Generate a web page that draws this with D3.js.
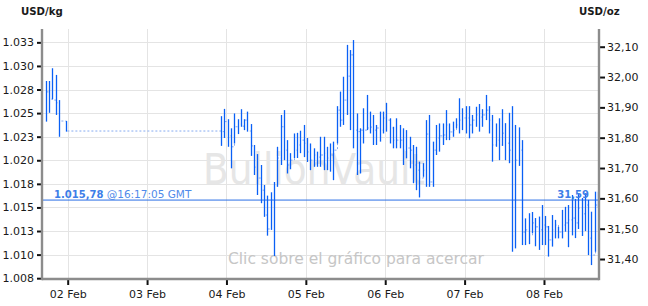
<!DOCTYPE html>
<html><head><meta charset="utf-8">
<script src="https://cdn.jsdelivr.net/npm/d3@7"></script>
<style>html,body{margin:0;padding:0;background:#fff;} svg{display:block;font-family:"DejaVu Sans",Verdana,sans-serif;}</style>
</head><body><svg id="c" width="648" height="306"></svg>
<script>
// ---- data (hourly HLC bars, USD/oz); hour offsets from 02 Feb 2013 00:00 GMT
const baseTime = "2013-02-02T00:00:00Z";
const hours = [-7,-6,-5,-4,-3,-1,
  46,47,48,49,50,51,52,53,54,55,56,57,58,59,60,61,62,63,64,65,66,67,68,69,70,71,72,73,74,75,
  76,77,78,79,80,81,82,83,84,85,86,87,88,89,90,91,92,93,94,95,96,97,98,99,100,101,102,103,104,105,
  106,107,108,109,110,111,112,113,114,115,116,117,118,119,120,121,122,123,124,125,126,127,128,129,130,131,132,133,134,135,
  136,137,138,139,140,141,142,143,144,145,146,147,148,149,150,151,152,153,154,155,156,157,158,159,160];
const highs = [31.987,31.987,32.029,32.007,31.924,31.855,
  31.871,31.895,31.861,31.831,31.880,31.861,31.894,31.861,31.886,31.845,
  31.776,31.746,31.710,31.644,31.609,31.620,31.654,31.770,31.875,31.891,
  31.792,31.749,31.814,31.816,31.823,31.842,31.799,31.781,31.765,31.754,
  31.803,31.803,31.770,31.781,31.787,31.904,31.952,32.001,32.106,32.089,
  32.122,31.880,31.831,31.897,31.941,31.886,31.875,31.842,31.886,31.886,
  31.915,31.864,31.836,31.864,31.842,31.831,31.825,31.803,31.776,31.770,
  31.721,31.716,31.858,31.875,31.787,31.842,31.847,31.847,31.891,31.847,
  31.853,31.864,31.930,31.897,31.904,31.904,31.875,31.902,31.911,31.894,
  31.941,31.904,31.875,31.847,31.864,31.894,31.848,31.882,31.904,31.842,
  31.834,31.792,31.534,31.551,31.555,31.535,31.540,31.578,31.542,31.509,
  31.545,31.529,31.506,31.562,31.572,31.578,31.611,31.598,31.614,31.601,
  31.617,31.595,31.556,31.622,31.622];
const lows = [31.853,31.882,31.927,31.875,31.803,31.820,
  31.773,31.799,31.770,31.699,31.781,31.812,31.836,31.825,31.820,31.740,
  31.677,31.611,31.584,31.539,31.477,31.496,31.410,31.638,31.710,31.726,
  31.682,31.696,31.733,31.733,31.749,31.736,31.720,31.693,31.704,31.704,
  31.704,31.693,31.693,31.688,31.660,31.781,31.836,31.842,31.875,31.825,
  31.765,31.677,31.682,31.781,31.825,31.814,31.776,31.776,31.787,31.814,
  31.820,31.781,31.765,31.765,31.765,31.710,31.732,31.699,31.650,31.627,
  31.603,31.671,31.638,31.638,31.638,31.743,31.754,31.776,31.792,31.792,
  31.803,31.831,31.814,31.825,31.814,31.798,31.814,31.836,31.820,31.836,
  31.858,31.814,31.721,31.770,31.726,31.773,31.726,31.716,31.424,31.435,
  31.707,31.446,31.446,31.449,31.485,31.442,31.430,31.446,31.446,31.408,
  31.441,31.468,31.468,31.468,31.490,31.439,31.478,31.469,31.499,31.476,
  31.492,31.413,31.380,31.424,31.570];
const closes = [31.951,31.927,31.924,31.915,31.855,31.822,
  31.820,31.853,31.806,31.770,31.836,31.845,31.838,31.858,31.822,31.773,
  31.703,31.667,31.627,31.545,31.499,31.595,31.641,31.733,31.836,31.759,
  31.710,31.726,31.759,31.776,31.792,31.782,31.753,31.726,31.743,31.736,
  31.743,31.749,31.733,31.743,31.759,31.891,31.858,31.924,32.003,32.073,
  31.825,31.820,31.825,31.825,31.832,31.835,31.825,31.832,31.825,31.865,
  31.858,31.832,31.792,31.792,31.792,31.759,31.766,31.759,31.710,31.693,
  31.667,31.693,31.812,31.654,31.759,31.799,31.806,31.809,31.842,31.819,
  31.825,31.842,31.858,31.865,31.865,31.842,31.858,31.875,31.868,31.875,
  31.891,31.858,31.776,31.792,31.776,31.815,31.782,31.759,31.476,31.726,
  31.759,31.489,31.496,31.479,31.519,31.506,31.496,31.512,31.506,31.463,
  31.496,31.512,31.489,31.512,31.519,31.529,31.535,31.519,31.568,31.549,
  31.578,31.469,31.413,31.578,31.594];

const kgTicks = [1007.5,1010,1012.5,1015,1017.5,1020,1022.5,1025,1027.5,1030,1032.5];
const ozTicks = [31.40,31.50,31.60,31.70,31.80,31.90,32.00,32.10];
const dayTicks = ["2013-02-02","2013-02-03","2013-02-04","2013-02-05","2013-02-06","2013-02-07","2013-02-08"];
const lastPriceKg = 1015.78;
const lastTimeLabel = "@16:17:05 GMT";
const leftTitle = "USD/kg", rightTitle = "USD/oz";
const watermark = "BullionVault";
const hint = "Clic sobre el gráfico para acercar";
const OZ_PER_KG = 32.1507;
const ozDomain = [31.3341, 32.1584];
const timeDomain = ["2013-02-01T16:14:00Z", "2013-02-08T16:38:00Z"];

// ---- layout
const L = 42, R = 599, T = 29, B = 279;
const svg = d3.select("#c");
const es = d3.formatLocale({decimal:",", thousands:".", grouping:[3], currency:["","$"]});
const fKg = es.format(",.0f"), fOz = es.format(".2f"), fPrice = es.format(",.2f");

const x = d3.scaleUtc().domain(timeDomain.map(d => new Date(d))).range([L, R]);
const yOz = d3.scaleLinear().domain(ozDomain).range([B, T]);
const yKg = d3.scaleLinear().domain(ozDomain.map(v => v * OZ_PER_KG)).range([B, T]);
const base = new Date(baseTime).getTime();
const tAt = h => new Date(base + (h + 0.35) * 3600e3);
const bx = t => Math.round(x(t)) + 0.5;

// grid
const grid = svg.append("g").attr("stroke", "#e4e4e4").attr("stroke-width", 1).attr("shape-rendering","crispEdges");
grid.selectAll("line.h").data(kgTicks).join("line").attr("class","h")
  .attr("x1", L).attr("x2", R).attr("y1", d => Math.round(yKg(d))+0.5).attr("y2", d => Math.round(yKg(d))+0.5);
grid.selectAll("line.v").data(dayTicks).join("line").attr("class","v")
  .attr("y1", T).attr("y2", B).attr("x1", d => Math.round(x(new Date(d+"T00:00:00Z")))+0.5).attr("x2", d => Math.round(x(new Date(d+"T00:00:00Z")))+0.5);

// watermark & hint
svg.append("text").attr("x", 203).attr("y", 183.5).attr("font-size", 43)
  .attr("textLength", 222).attr("lengthAdjust", "spacingAndGlyphs")
  .attr("fill", "#e6e6e6").text(watermark);
svg.append("text").attr("x", 228).attr("y", 263.5).attr("font-size", 15.5)
  .attr("textLength", 256).attr("lengthAdjust", "spacingAndGlyphs")
  .attr("fill", "#c6c6c6").text(hint);

// last price line
const lastOz = lastPriceKg / OZ_PER_KG;
svg.append("line").attr("x1", L).attr("x2", R).attr("y1", yOz(lastOz)).attr("y2", yOz(lastOz))
  .attr("stroke", "#2a6fe6").attr("stroke-width", 1);

// bars
const bars = hours.map((h, i) => ({t: tAt(h), hi: highs[i], lo: lows[i], c: closes[i]}));

// close step line (dashed, light blue) from each bar to the next
const closeLine = d3.line().curve(d3.curveStepAfter).x(d => bx(d.t)).y(d => yOz(d.c));
svg.append("path").datum(bars.concat([{t: new Date(bars[bars.length-1].t.getTime() + 0.6*3600e3), c: bars[bars.length-1].c}]))
  .attr("d", closeLine).attr("fill", "none")
  .attr("stroke", "#86aaf0").attr("stroke-width", 1).attr("stroke-dasharray", "2,2");

const gb = svg.append("g");
gb.selectAll("line.bar").data(bars).join("line").attr("class","bar")
  .attr("x1", d => bx(d.t)).attr("x2", d => bx(d.t))
  .attr("y1", d => yOz(d.hi)).attr("y2", d => yOz(d.lo))
  .attr("stroke", "#0a60f5").attr("stroke-width", 1.3);

// price labels
const pl = svg.append("text").attr("x", 54).attr("y", 197.5).attr("fill", "#3d7ee8");
pl.append("tspan").attr("font-weight", "bold").attr("font-size", 10).text(fPrice(lastPriceKg));
pl.append("tspan").attr("font-size", 10.5).attr("fill", "#4f8aea").text(" " + lastTimeLabel);
svg.append("text").attr("x", 589).attr("y", 197.5).attr("text-anchor", "end")
  .attr("font-weight", "bold").attr("font-size", 10).attr("fill", "#3d7ee8").text(fOz(lastOz));

// axes
function styleAxis(g) {
  g.select(".domain").remove();
  g.selectAll(".tick line").attr("stroke", "#111").attr("stroke-width", 2);
  g.selectAll(".tick text").attr("fill", "#1a1a1a").attr("font-size", 11).attr("font-family", "DejaVu Sans, Verdana, sans-serif");
}
svg.append("g").attr("transform", `translate(${L},0)`)
  .call(d3.axisLeft(yKg).tickValues(kgTicks).tickFormat(fKg).tickSize(5).tickPadding(3).tickSizeOuter(0))
  .call(styleAxis);
svg.append("g").attr("transform", `translate(${R},0)`)
  .call(d3.axisRight(yOz).tickValues(ozTicks).tickFormat(fOz).tickSize(6).tickPadding(2).tickSizeOuter(0))
  .call(styleAxis);
svg.append("g").attr("transform", `translate(0,${B})`)
  .call(d3.axisBottom(x).tickValues(dayTicks.map(d => new Date(d+"T00:00:00Z"))).tickFormat(d3.utcFormat("%d %b")).tickSize(6).tickPadding(5).tickSizeOuter(0))
  .call(styleAxis);

// frame lines
const frame = svg.append("g").attr("stroke", "#8c8c8c").attr("stroke-width", 2.4);
frame.append("line").attr("x1", L).attr("x2", L).attr("y1", T).attr("y2", B + 1.2);
frame.append("line").attr("x1", R).attr("x2", R).attr("y1", T).attr("y2", B + 1.2);
frame.append("line").attr("x1", L).attr("x2", R).attr("y1", B).attr("y2", B);

// titles
svg.append("text").attr("x", 21).attr("y", 14.5).attr("font-weight", "bold").attr("font-size", 10.2).attr("fill", "#1a1a1a").text(leftTitle);
svg.append("text").attr("x", 579).attr("y", 14.5).attr("font-weight", "bold").attr("font-size", 10.2).attr("fill", "#1a1a1a").text(rightTitle);
</script></body></html>
